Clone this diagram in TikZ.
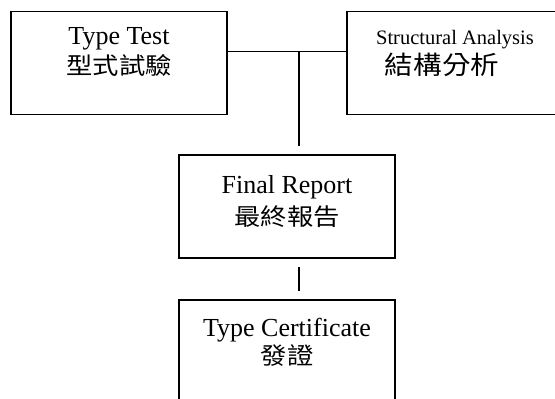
\documentclass[tikz,border=0pt]{standalone}
\usepackage{fontspec}
\usepackage{graphicx}
\setmainfont{Liberation Serif}
\newfontfamily\cjk{Noto Sans CJK TC}
\begin{document}
\begin{tikzpicture}[x=1pt,y=-1pt,
  box/.style={draw, line width=1.5pt, minimum width=216pt, minimum height=103pt, inner sep=0pt},
  lat/.style={anchor=base, inner sep=0pt, font=\fontsize{26}{26}\selectfont},
  han/.style={anchor=center, inner sep=0pt, font=\fontsize{23.5}{23.5}\selectfont\cjk, xscale=1.12, transform shape},
  link/.style={line width=1.5pt}]
\useasboundingbox (0,0) rectangle (555,399);
\node[box] (tt) at (119,63) {};
\node[box] (sa) at (455,63) {};
\node[box] (fr) at (287,206.5) {};
\node[box] (tc) at (287,351.5) {};
\node[lat] (tt1) at (119,44) {Type Test};
\node[han] (tt2) at (119,65) {型式試驗};
\node[lat, font=\fontsize{20.5}{20.5}\selectfont] (sa1) at (455,44) {Structural Analysis};
\node[han, font=\fontsize{25.5}{25.5}\selectfont\cjk] (sa2) at (442,65) {結構分析};
\node[lat] (fr1) at (287,193) {Final Report};
\node[han] (fr2) at (287,217) {最終報告};
\node[lat] (tc1) at (287,336) {Type Certificate};
\node[han] (tc2) at (287,356) {發證};
\coordinate (j) at (299,51.5);
\draw[link] (tt.east |- j) -- (sa.west |- j);
\draw[link] (j) -- ([yshift=8pt]fr.north -| j);
\draw[link] ([yshift=-8pt]fr.south -| j) -- ([yshift=8pt]tc.north -| j);
\end{tikzpicture}
\end{document}
